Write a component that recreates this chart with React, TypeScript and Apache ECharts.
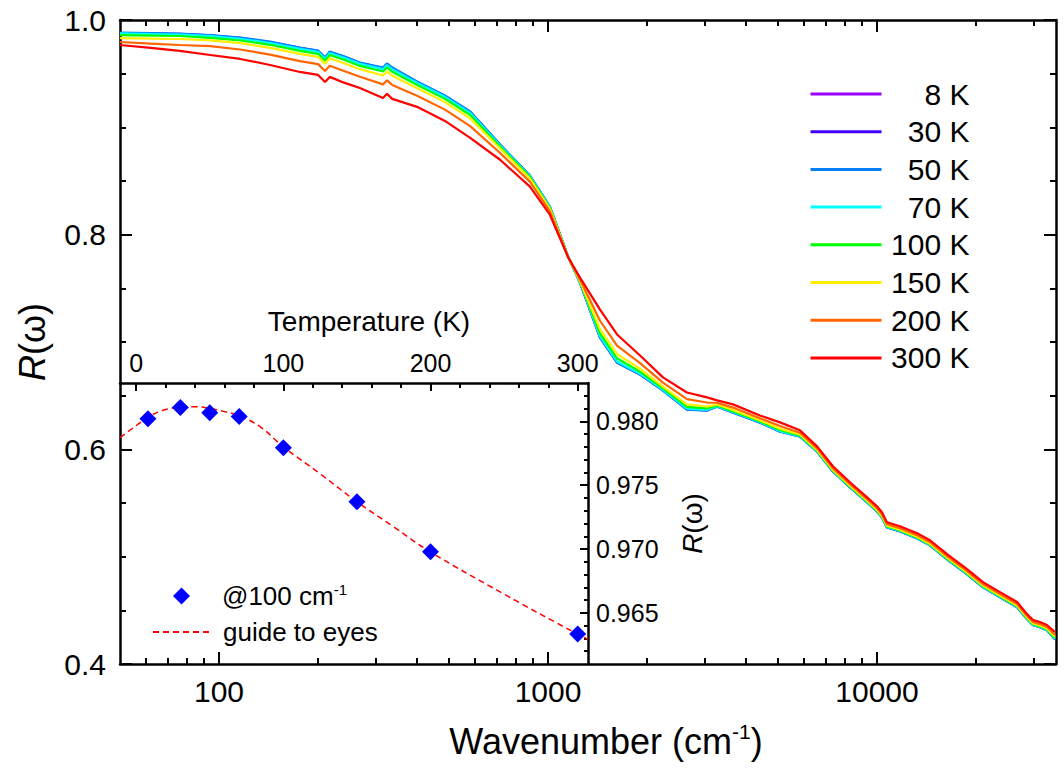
import React, { useEffect, useRef } from 'react';
import * as echarts from 'echarts';

const FONT = "'Liberation Sans', Arial, Helvetica, sans-serif";

// Main panel: wavenumber grid (cm^-1)
const wavenumber = [50, 62, 76, 94, 116, 143, 176, 200, 210, 217, 241, 268, 315, 324, 336, 400, 486, 580, 715, 881, 1013, 1151, 1251, 1439, 1621, 1904, 2236, 2644, 3043, 3265, 3650, 4406, 5069, 5832, 6572, 7345, 8277, 9330, 10000, 10350, 10720, 11740, 13240, 14490, 16330, 18780, 21000, 23650, 26660, 28580, 29810, 31280, 32860, 34740];

const r8K = [0.9879, 0.9874, 0.9870, 0.9856, 0.9833, 0.9795, 0.9740, 0.9712, 0.9647, 0.9702, 0.9656, 0.9600, 0.9553, 0.9591, 0.9553, 0.9423, 0.9293, 0.9144, 0.8837, 0.8549, 0.8260, 0.7795, 0.7553, 0.7042, 0.6809, 0.6698, 0.6549, 0.6372, 0.6363, 0.6400, 0.6344, 0.6251, 0.6167, 0.6121, 0.5981, 0.5795, 0.5647, 0.5507, 0.5423, 0.5367, 0.5274, 0.5237, 0.5172, 0.5107, 0.4977, 0.4837, 0.4716, 0.4623, 0.4530, 0.4419, 0.4363, 0.4344, 0.4316, 0.4233];
const r30K = [0.9877, 0.9872, 0.9868, 0.9854, 0.9831, 0.9793, 0.9738, 0.9710, 0.9645, 0.9700, 0.9654, 0.9598, 0.9551, 0.9589, 0.9551, 0.9421, 0.9291, 0.9142, 0.8835, 0.8547, 0.8258, 0.7795, 0.7554, 0.7043, 0.6810, 0.6699, 0.6550, 0.6373, 0.6364, 0.6401, 0.6345, 0.6252, 0.6168, 0.6122, 0.5982, 0.5796, 0.5648, 0.5508, 0.5424, 0.5368, 0.5275, 0.5238, 0.5173, 0.5108, 0.4978, 0.4838, 0.4717, 0.4624, 0.4531, 0.4420, 0.4364, 0.4345, 0.4317, 0.4234];
const r50K = [0.9883, 0.9878, 0.9874, 0.9860, 0.9837, 0.9799, 0.9744, 0.9716, 0.9651, 0.9706, 0.9660, 0.9604, 0.9557, 0.9595, 0.9557, 0.9427, 0.9297, 0.9148, 0.8840, 0.8551, 0.8262, 0.7795, 0.7551, 0.7040, 0.6807, 0.6696, 0.6547, 0.6370, 0.6361, 0.6398, 0.6342, 0.6249, 0.6165, 0.6119, 0.5979, 0.5793, 0.5645, 0.5505, 0.5421, 0.5365, 0.5272, 0.5235, 0.5170, 0.5105, 0.4975, 0.4835, 0.4714, 0.4621, 0.4528, 0.4417, 0.4361, 0.4342, 0.4314, 0.4231];
const r70K = [0.9875, 0.9869, 0.9864, 0.9849, 0.9825, 0.9786, 0.9731, 0.9703, 0.9638, 0.9693, 0.9646, 0.9591, 0.9542, 0.9580, 0.9541, 0.9414, 0.9284, 0.9134, 0.8831, 0.8545, 0.8257, 0.7795, 0.7555, 0.7052, 0.6819, 0.6705, 0.6554, 0.6378, 0.6368, 0.6402, 0.6347, 0.6254, 0.6170, 0.6123, 0.5983, 0.5797, 0.5649, 0.5509, 0.5425, 0.5369, 0.5276, 0.5239, 0.5174, 0.5109, 0.4979, 0.4839, 0.4718, 0.4625, 0.4532, 0.4421, 0.4365, 0.4346, 0.4318, 0.4236];
const r100K = [0.9860, 0.9855, 0.9851, 0.9834, 0.9809, 0.9769, 0.9713, 0.9685, 0.9620, 0.9674, 0.9627, 0.9572, 0.9520, 0.9558, 0.9518, 0.9395, 0.9265, 0.9115, 0.8820, 0.8537, 0.8251, 0.7794, 0.7560, 0.7081, 0.6848, 0.6724, 0.6567, 0.6396, 0.6381, 0.6408, 0.6355, 0.6261, 0.6180, 0.6129, 0.5988, 0.5802, 0.5654, 0.5514, 0.5430, 0.5374, 0.5281, 0.5244, 0.5179, 0.5114, 0.4984, 0.4844, 0.4723, 0.4630, 0.4537, 0.4426, 0.4370, 0.4351, 0.4323, 0.4243];
const r150K = [0.9832, 0.9826, 0.9823, 0.9810, 0.9784, 0.9741, 0.9684, 0.9656, 0.9591, 0.9644, 0.9595, 0.9542, 0.9483, 0.9521, 0.9481, 0.9365, 0.9235, 0.9083, 0.8802, 0.8523, 0.8241, 0.7793, 0.7567, 0.7120, 0.6887, 0.6751, 0.6585, 0.6419, 0.6399, 0.6417, 0.6367, 0.6271, 0.6192, 0.6138, 0.5995, 0.5809, 0.5661, 0.5521, 0.5437, 0.5381, 0.5288, 0.5251, 0.5186, 0.5121, 0.4991, 0.4851, 0.4730, 0.4637, 0.4544, 0.4433, 0.4377, 0.4358, 0.4330, 0.4253];
const r200K = [0.9795, 0.9780, 0.9767, 0.9756, 0.9725, 0.9677, 0.9617, 0.9589, 0.9524, 0.9574, 0.9523, 0.9472, 0.9400, 0.9438, 0.9395, 0.9295, 0.9165, 0.9011, 0.8761, 0.8493, 0.8219, 0.7792, 0.7581, 0.7198, 0.6966, 0.6804, 0.6622, 0.6467, 0.6436, 0.6434, 0.6389, 0.6290, 0.6217, 0.6155, 0.6009, 0.5823, 0.5675, 0.5535, 0.5451, 0.5395, 0.5302, 0.5265, 0.5200, 0.5135, 0.5005, 0.4865, 0.4744, 0.4651, 0.4558, 0.4447, 0.4391, 0.4372, 0.4344, 0.4272];
const r300K = [0.9767, 0.9740, 0.9712, 0.9674, 0.9637, 0.9581, 0.9516, 0.9488, 0.9423, 0.9470, 0.9414, 0.9367, 0.9274, 0.9312, 0.9265, 0.9191, 0.9060, 0.8902, 0.8698, 0.8447, 0.8186, 0.7790, 0.7600, 0.7302, 0.7070, 0.6874, 0.6670, 0.6530, 0.6484, 0.6456, 0.6419, 0.6316, 0.6251, 0.6177, 0.6028, 0.5842, 0.5693, 0.5553, 0.5470, 0.5414, 0.5321, 0.5284, 0.5219, 0.5153, 0.5023, 0.4884, 0.4763, 0.4670, 0.4577, 0.4465, 0.4409, 0.4391, 0.4363, 0.4298];

const seriesNames = ['8 K', '30 K', '50 K', '70 K', '100 K', '150 K', '200 K', '300 K'];
const seriesValues = [r8K, r30K, r50K, r70K, r100K, r150K, r200K, r300K];
const seriesColors = ['#9900ff', '#4400ff', '#0080ff', '#00ffff', '#00ff00', '#ffee00', '#ff6600', '#ff0000'];

const xMajorTicks = [100, 1000, 10000];
const xMinorTicks = [60, 70, 80, 90, 200, 300, 400, 500, 600, 700, 800, 900, 2000, 3000, 4000, 5000, 6000, 7000, 8000, 9000, 20000, 30000];

// Inset: R at 100 cm^-1 vs temperature
const tempK = [8, 30, 50, 70, 100, 150, 200, 300];
const r100 = [0.98021, 0.98108, 0.98068, 0.98037, 0.97794, 0.97370, 0.96978, 0.96334];
const guideT = [-11, 0, 10, 20, 30, 40, 50, 60, 70, 85, 100, 125, 150, 175, 200, 250, 300, 307];
const guideR = [0.97872, 0.97966, 0.98045, 0.98092, 0.98111, 0.98115, 0.98100, 0.98076, 0.98045, 0.97951, 0.97800, 0.97589, 0.97370, 0.97173, 0.96977, 0.96647, 0.96333, 0.96294];
const tMajorTicks = [0, 100, 200, 300];
const tMinorTicks = [20, 40, 60, 80, 120, 140, 160, 180, 220, 240, 260, 280];
const insetYMajor = [0.965, 0.970, 0.975, 0.980];
const insetYMinor = [0.962, 0.963, 0.964, 0.966, 0.967, 0.968, 0.969, 0.971, 0.972, 0.973, 0.974, 0.976, 0.977, 0.978, 0.979, 0.981, 0.982];

const black = '#000';
const axisLine = { show: true, onZero: false, lineStyle: { color: black, width: 2.5 } };
const noLine = { show: false, onZero: false };
const tickStyle = { color: black, width: 2 };

const MAIN_RECT = { left: 120, top: 20, right: 8, bottom: 104 };
const INSET_RECT = { left: 120, top: 383, width: 468, height: 281 };

function logAxis(gridIndex: number, position: string, extra: any) {
  return {
    type: 'log', logBase: 10, gridIndex, min: 50, max: 35000, position,
    splitLine: { show: false },
    axisLabel: { show: false },
    ...extra,
  };
}

function buildOption() {
  const mainSeries = seriesNames.map((name, i) => ({
    name,
    type: 'line',
    xAxisIndex: 0,
    yAxisIndex: 0,
    showSymbol: false,
    symbol: 'none',
    clip: true,
    lineStyle: { color: seriesColors[i], width: 2.2 },
    itemStyle: { color: seriesColors[i] },
    data: wavenumber.map((w, j) => [w, seriesValues[i][j]]),
    z: 2 + i,
  }));

  return {
    animation: false,
    backgroundColor: '#fff',
    textStyle: { fontFamily: FONT },
    grid: [
      { ...MAIN_RECT, containLabel: false, outerBoundsMode: 'none' },
      { ...INSET_RECT, containLabel: false, outerBoundsMode: 'none' },
      { ...MAIN_RECT, containLabel: false, outerBoundsMode: 'none' },
      { ...INSET_RECT, containLabel: false, outerBoundsMode: 'none' },
    ],
    legend: [
      {
        data: seriesNames,
        orient: 'vertical',
        left: 809,
        top: 79,
        padding: 0,
        itemWidth: 71,
        itemHeight: 14,
        itemGap: 7.7,
        selectedMode: false,
        lineStyle: { width: 3 },
        itemStyle: { opacity: 0 },
        formatter: (n: string) => `{r|${n}}`,
        textStyle: {
          color: black,
          fontFamily: FONT,
          fontSize: 30,
          rich: { r: { width: 83, align: 'right', fontSize: 30, lineHeight: 30, fontFamily: FONT, color: black } },
        },
      },
      {
        data: ['@100 cm-1'],
        orient: 'vertical',
        left: 173,
        top: 582,
        padding: 0,
        itemWidth: 17,
        itemHeight: 17,
        selectedMode: false,
        formatter: () => '{a|@100 cm}{s|-1}',
        textStyle: {
          color: black,
          fontFamily: FONT,
          fontSize: 26,
          rich: {
            a: { fontSize: 26, lineHeight: 28, fontFamily: FONT, color: black, padding: [0, 0, 0, 27] },
            s: { fontSize: 15, lineHeight: 15, verticalAlign: 'top', fontFamily: FONT, color: black },
          },
        },
      },
      {
        data: ['guide to eyes'],
        orient: 'vertical',
        left: 152,
        top: 619,
        padding: 0,
        itemWidth: 58,
        itemHeight: 14,
        selectedMode: false,
        itemStyle: { opacity: 0 },
        formatter: (n: string) => `{a|${n}}`,
        textStyle: {
          color: black,
          fontFamily: FONT,
          fontSize: 26,
          rich: { a: { fontSize: 26, lineHeight: 28, fontFamily: FONT, color: black, padding: [0, 0, 0, 7] } },
        },
      },
    ],
    xAxis: [
      logAxis(0, 'bottom', {
        axisLine,
        axisTick: { show: true, inside: true, length: 12, lineStyle: tickStyle, customValues: xMajorTicks },
        axisLabel: {
          show: true, customValues: xMajorTicks, fontSize: 30, color: black, fontFamily: FONT, margin: 12,
          formatter: (v: number) => String(Math.round(v)),
        },
        name: '{p|}{a|Wavenumber (cm}{s|-1}{a|)}',
        nameLocation: 'middle',
        nameGap: 57,
        nameTextStyle: {
          fontFamily: FONT, fontSize: 36, color: black,
          rich: {
            a: { fontSize: 36, lineHeight: 40, fontFamily: FONT, color: black },
            s: { fontSize: 21, lineHeight: 21, verticalAlign: 'top', fontFamily: FONT, color: black },
            p: { width: 36, fontSize: 36 },
          },
        },
      }),
      logAxis(0, 'top', {
        axisLine,
        axisTick: { show: true, inside: true, length: 12, lineStyle: tickStyle, customValues: xMajorTicks },
      }),
      logAxis(2, 'bottom', {
        axisLine: noLine,
        axisTick: { show: true, inside: true, length: 6, lineStyle: tickStyle, customValues: xMinorTicks },
      }),
      logAxis(2, 'top', {
        axisLine: noLine,
        axisTick: { show: true, inside: true, length: 6, lineStyle: tickStyle, customValues: xMinorTicks },
      }),
      {
        type: 'value', gridIndex: 1, min: -11, max: 307, position: 'top',
        axisLine,
        splitLine: { show: false },
        axisTick: { show: true, inside: true, length: 8, lineStyle: tickStyle, customValues: tMajorTicks },
        axisLabel: { show: true, customValues: tMajorTicks, fontSize: 25, color: black, fontFamily: FONT, margin: 8 },
        name: '{p|}{a|Temperature (K)}',
        nameLocation: 'middle',
        nameGap: 48,
        nameTextStyle: {
          fontFamily: FONT, fontSize: 28, color: black,
          rich: { a: { fontSize: 28, fontFamily: FONT, color: black }, p: { width: 30 } },
        },
      },
      {
        type: 'value', gridIndex: 3, min: -11, max: 307, position: 'top',
        axisLine: noLine,
        splitLine: { show: false },
        axisTick: { show: true, inside: true, length: 5, lineStyle: tickStyle, customValues: tMinorTicks },
        axisLabel: { show: false },
      },
    ],
    yAxis: [
      {
        type: 'value', gridIndex: 0, min: 0.4, max: 1.0, interval: 0.2, position: 'left',
        axisLine,
        splitLine: { show: false },
        axisTick: { show: true, inside: true, length: 12, lineStyle: tickStyle },
        minorTick: { show: true, splitNumber: 4, length: 6, lineStyle: tickStyle },
        minorSplitLine: { show: false },
        axisLabel: { fontSize: 30, color: black, fontFamily: FONT, margin: 14, formatter: (v: number) => v.toFixed(1) },
        name: '{i|R}{n|(ω)}',
        nameLocation: 'middle',
        nameGap: 70,
        nameRotate: 90,
        nameTextStyle: {
          fontFamily: FONT, fontSize: 36, color: black,
          rich: {
            i: { fontStyle: 'italic', fontSize: 36, fontFamily: FONT, color: black },
            n: { fontSize: 36, fontFamily: FONT, color: black },
          },
        },
      },
      {
        type: 'value', gridIndex: 0, min: 0.4, max: 1.0, interval: 0.2, position: 'right',
        axisLine,
        splitLine: { show: false },
        axisTick: { show: true, inside: true, length: 12, lineStyle: tickStyle },
        minorTick: { show: true, splitNumber: 4, length: 6, lineStyle: tickStyle },
        minorSplitLine: { show: false },
        axisLabel: { show: false },
      },
      {
        type: 'value', gridIndex: 1, min: 0.961, max: 0.983, position: 'right',
        axisLine,
        splitLine: { show: false },
        axisTick: { show: true, inside: true, length: 8, lineStyle: tickStyle, customValues: insetYMajor },
        axisLabel: {
          show: true, customValues: insetYMajor, fontSize: 25, color: black, fontFamily: FONT, margin: 8,
          formatter: (v: number) => v.toFixed(3),
        },
        name: '{i|R}{n|(ω)}',
        nameLocation: 'middle',
        nameGap: 90,
        nameRotate: 90,
        nameTextStyle: {
          fontFamily: FONT, fontSize: 28, color: black,
          rich: {
            i: { fontStyle: 'italic', fontSize: 28, fontFamily: FONT, color: black },
            n: { fontSize: 28, fontFamily: FONT, color: black },
          },
        },
      },
      {
        type: 'value', gridIndex: 2, min: 0, max: 1, show: false,
      },
      {
        type: 'value', gridIndex: 3, min: 0.961, max: 0.983, position: 'right',
        axisLine: noLine,
        splitLine: { show: false },
        axisTick: { show: true, inside: true, length: 4, lineStyle: tickStyle, customValues: insetYMinor },
        axisLabel: { show: false },
      },
    ],
    series: [
      ...mainSeries,
      {
        name: 'guide to eyes',
        type: 'line',
        xAxisIndex: 4,
        yAxisIndex: 2,
        smooth: 0.4,
        showSymbol: false,
        symbol: 'none',
        clip: true,
        lineStyle: { color: '#ff0000', width: 1.5, type: [6, 4] },
        itemStyle: { color: '#ff0000' },
        data: guideT.map((t, j) => [t, guideR[j]]),
        z: 20,
      },
      {
        name: '@100 cm-1',
        type: 'scatter',
        xAxisIndex: 4,
        yAxisIndex: 2,
        symbol: 'diamond',
        symbolSize: 17,
        itemStyle: { color: '#0000ff', opacity: 1 },
        data: tempK.map((t, j) => [t, r100[j]]),
        z: 21,
      },
    ],
  };
}

export default function App() {
  const ref = useRef<HTMLDivElement>(null);
  useEffect(() => {
    if (!ref.current) return;
    const chart = echarts.init(ref.current, null, { renderer: 'svg' });
    chart.setOption(buildOption() as any);
    return () => chart.dispose();
  }, []);
  return (
    <div
      ref={ref}
      style={{ position: 'absolute', left: 0, top: 0, width: 1064, height: 768, background: '#fff' }}
    />
  );
}
